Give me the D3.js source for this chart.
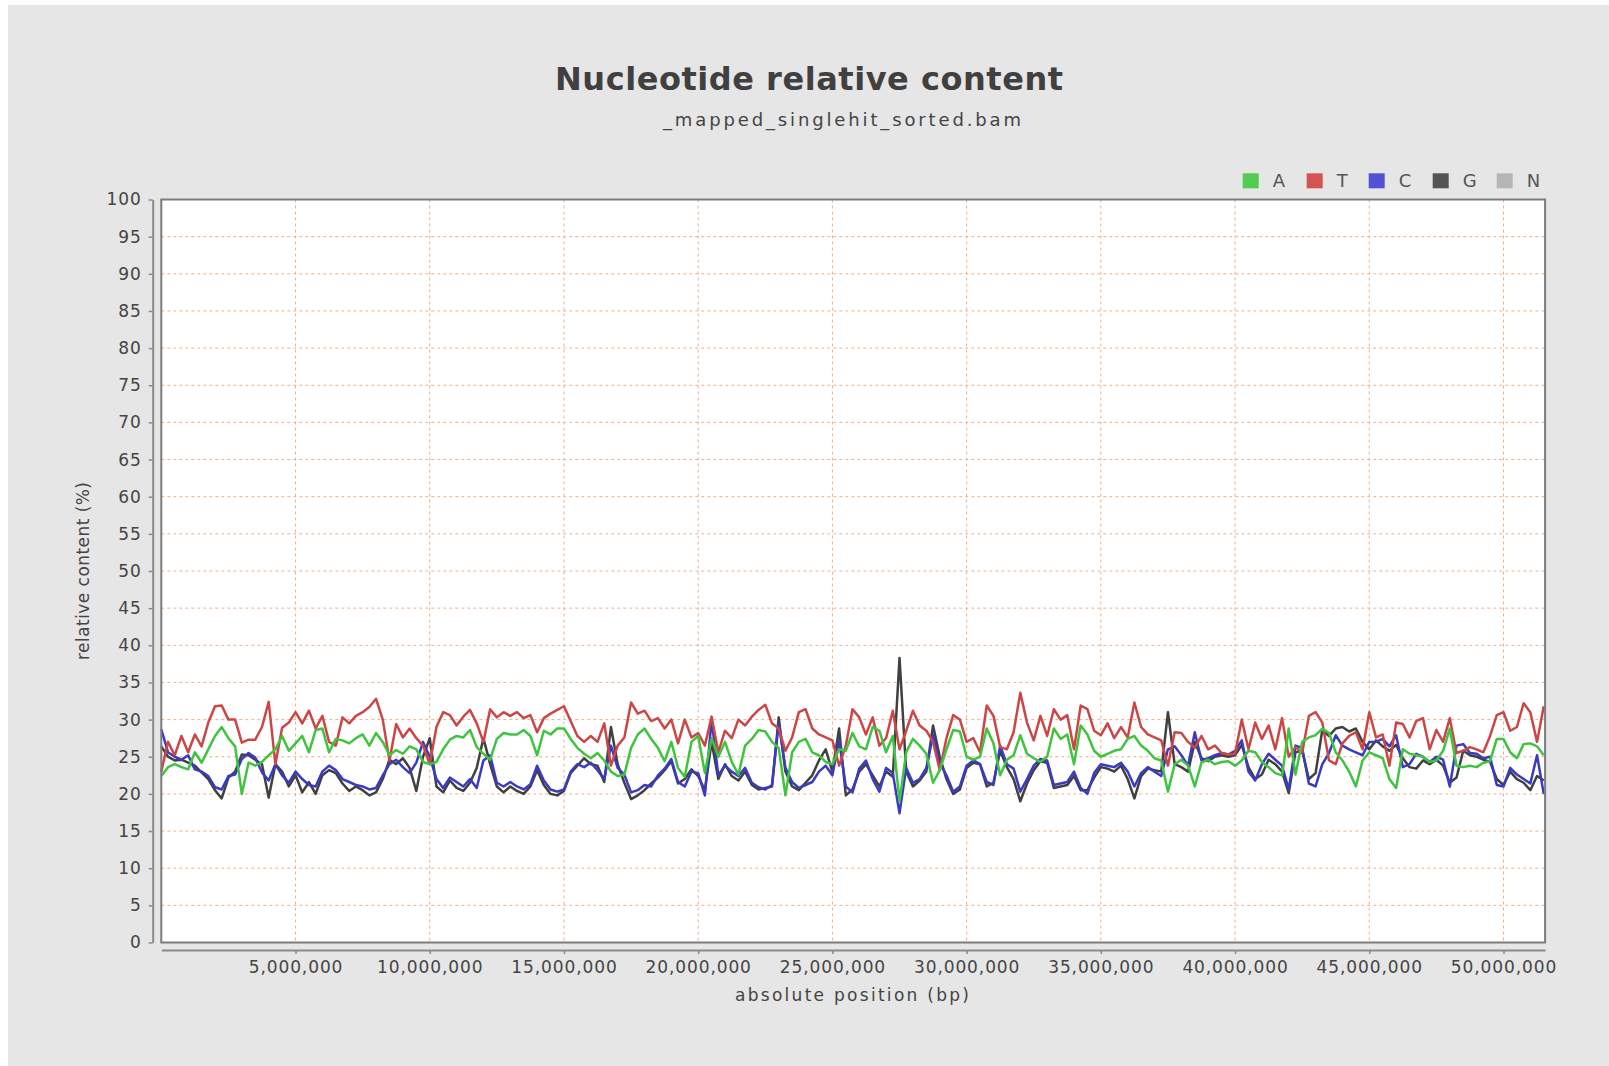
<!DOCTYPE html>
<html>
<head>
<meta charset="utf-8">
<script src="https://cdn.jsdelivr.net/npm/d3@7"></script>
<style>
  body { margin: 0; background: #ffffff; }
  text { font-family: "DejaVu Sans", sans-serif; fill: #444444; }
</style>
</head>
<body>
<div id="chart"></div>
<script>
// Relative nucleotide content (%) per window along the reference, one value every 250 kb
const windowStep = 250000;

const aContent = [
  22.4, 23.6, 24.0, 23.6, 23.3, 25.6, 24.2, 26.0, 27.8, 29.0, 27.5, 26.4, 20.0, 24.2, 23.8, 24.3,
  25.2, 26.0, 27.8, 25.8, 26.8, 27.8, 25.6, 28.6, 28.8, 25.6, 27.4, 27.2, 26.8, 27.5, 28.0, 26.5,
  28.2, 27.0, 25.2, 25.9, 25.4, 26.4, 26.0, 24.3, 24.0, 24.3, 26.0, 27.3, 27.8, 27.6, 28.6, 26.3,
  25.4, 24.6, 27.4, 28.2, 28.0,
  28.0, 28.6, 27.8, 25.2, 28.5, 28.0, 28.8, 28.8, 27.4, 26.2, 25.4, 24.8, 25.5, 24.5, 23.0, 22.4,
  22.6, 26.2, 28.0, 28.8, 27.4, 26.2, 24.4, 27.0, 23.5, 22.3, 27.0, 27.8, 22.8, 27.5, 25.0, 27.0,
  24.3, 22.6, 26.5, 27.4, 28.6, 28.4, 27.0, 26.2, 19.8, 25.6, 27.0, 27.4, 25.6, 25.2, 24.3, 24.0,
  26.0, 25.8, 28.2, 26.4,
  26.0, 29.0, 28.5, 25.6, 27.8, 19.0, 25.6, 27.4, 26.5, 25.4, 21.5, 23.2, 26.0, 28.6, 28.4, 25.0,
  24.6, 25.0, 28.8, 26.8, 22.5, 24.6, 25.2, 27.9, 25.4, 24.8, 24.3, 25.0, 28.8, 27.4, 28.0, 24.0,
  29.2, 28.0, 25.8, 25.0, 25.4, 25.8, 26.0, 27.4, 27.8, 26.5, 25.8, 24.8, 24.5, 20.3, 24.0, 24.6,
  23.8, 21.0, 24.2, 24.6, 24.0, 24.3, 24.4,
  23.8, 24.5, 25.8, 25.6, 24.3, 23.6, 22.8, 22.5, 28.8, 22.6, 27.0, 27.6, 27.9, 28.8, 28.2, 25.6,
  24.5, 23.0, 21.0, 24.5, 25.6, 25.2, 24.8, 22.0, 20.8, 26.0, 25.4, 25.2, 25.0, 24.3, 24.5, 25.8,
  28.8, 23.8, 23.6, 23.8, 23.6, 24.2, 24.4, 27.4, 27.4, 25.6, 24.8, 26.7, 26.8, 26.4, 25.2
];

const tContent = [
  23.0, 27.0, 25.2, 27.8, 25.6, 28.0, 26.4, 29.6, 31.8, 31.9, 30.0, 30.0, 26.9, 27.3, 27.3, 29.0,
  32.4, 24.0, 28.9, 29.6, 31.0, 29.5, 31.2, 28.8, 30.5, 27.0, 26.5, 30.3, 29.5, 30.5, 31.0, 31.7,
  32.8, 30.0, 24.5, 29.4, 27.6, 28.8, 27.5, 26.5, 24.0, 29.0, 31.0, 30.6, 29.2, 30.4, 31.3, 29.5,
  27.0, 31.4, 30.3, 31.0, 30.5,
  31.0, 30.2, 30.6, 28.3, 30.2, 30.8, 31.3, 31.8, 29.8, 27.8, 27.0, 27.8, 27.0, 29.5, 23.8, 26.5,
  27.6, 32.3, 30.8, 31.2, 29.8, 30.2, 28.8, 30.0, 26.8, 30.0, 27.6, 28.2, 26.5, 30.4, 25.6, 28.5,
  27.5, 30.0, 29.2, 30.4, 31.3, 32.0, 29.5, 28.8, 25.8, 27.6, 31.0, 31.4, 28.8, 28.0, 27.6, 27.2,
  23.8, 26.5, 31.4, 30.3,
  28.0, 30.3, 26.5, 27.5, 31.2, 26.0, 28.5, 31.2, 29.2, 28.5, 27.0, 23.2, 27.5, 30.6, 30.0, 27.0,
  27.5, 25.6, 31.9, 30.5, 26.3, 26.0, 28.3, 33.6, 29.6, 27.2, 30.5, 27.8, 31.4, 30.0, 30.6, 26.0,
  31.9, 31.4, 28.5, 27.9, 29.5, 27.5, 29.0, 27.6, 32.3, 29.0, 28.0, 27.6, 27.2, 23.8, 28.3, 28.2,
  27.0, 26.2, 27.8, 26.0, 26.5, 25.5, 25.3,
  25.4, 30.0, 26.0, 29.6, 27.4, 29.2, 26.0, 30.2, 25.0, 26.3, 25.5, 30.5, 31.0, 29.6, 24.5, 24.0,
  26.8, 27.8, 28.3, 26.0, 31.0, 27.6, 28.0, 23.8, 29.6, 29.4, 27.6, 29.8, 30.2, 26.0, 28.6, 27.0,
  30.2, 25.5, 25.8, 26.3, 26.0, 25.6, 27.8, 30.6, 31.0, 28.5, 29.0, 32.2, 31.0, 27.0, 31.8
];

const cContent = [
  28.7, 25.6, 25.0, 24.6, 25.2, 23.3, 23.0, 22.4, 20.9, 20.6, 22.4, 22.6, 24.7, 25.5, 24.9, 22.9,
  21.8, 24.0, 22.5, 21.5, 23.0, 22.0, 21.2, 21.0, 23.0, 23.8, 23.2, 22.0, 21.6, 21.2, 21.0, 20.6,
  20.8, 22.5, 24.0, 24.6, 23.6, 22.8, 24.2, 27.0, 25.0, 22.0, 20.8, 22.2, 21.6, 21.0, 22.0, 20.8,
  24.5, 25.2, 21.5, 21.0, 21.6,
  21.0, 20.6, 21.3, 23.8, 21.8, 20.6, 20.3, 20.6, 23.0, 24.0, 23.6, 24.2, 23.2, 22.0, 26.5, 23.5,
  22.6, 20.2, 20.5, 21.2, 21.0, 22.5, 23.4, 24.7, 21.6, 21.0, 23.0, 22.8, 19.8, 30.0, 22.5, 23.8,
  23.0, 22.4, 23.5, 21.5, 20.9, 20.6, 21.2, 29.5, 23.5, 21.6, 20.8, 21.2, 21.6, 23.0, 23.8, 22.5,
  27.2, 21.0, 20.2, 23.4,
  24.5, 22.0, 20.3, 23.5, 22.8, 17.4, 23.5, 21.5, 22.0, 23.5, 27.9, 24.2, 22.5, 20.3, 21.0, 23.8,
  24.5, 24.0, 21.6, 21.2, 26.5, 24.0, 23.4, 20.3, 22.0, 23.8, 24.7, 24.5, 21.2, 21.4, 21.6, 23.0,
  20.8, 20.0, 22.8, 24.0, 23.8, 23.6, 24.2, 23.0, 21.0, 22.8, 23.6, 23.0, 22.4, 26.0, 26.4, 25.2,
  23.8, 28.3, 24.5, 24.8, 25.2, 25.5, 25.3,
  25.8, 27.2, 23.0, 21.8, 24.0, 25.4, 24.6, 23.8, 20.6, 26.5, 26.2, 21.4, 21.0, 24.0, 25.5, 27.9,
  26.5, 26.0, 25.6, 25.2, 27.0, 27.0, 27.4, 26.4, 27.9, 23.6, 24.0, 25.4, 25.0, 24.3, 25.0, 24.6,
  21.0, 26.5, 26.7, 25.5, 25.4, 24.8, 25.0, 21.2, 21.0, 23.5, 22.6, 22.0, 21.4, 25.2, 20.0
];

const gContent = [
  26.4, 25.0, 24.5, 24.6, 24.2, 23.8, 22.9, 22.0, 20.5, 19.4, 22.2, 23.0, 25.3, 25.2, 24.6, 24.0,
  19.5, 24.0, 23.0, 21.0, 22.5, 20.2, 21.6, 20.0, 22.5, 23.2, 22.8, 21.4, 20.4, 21.0, 20.5, 19.8,
  20.2, 22.0, 24.6, 24.0, 24.8, 23.5, 20.4, 25.0, 27.5, 21.0, 20.2, 21.8, 20.8, 20.4, 21.5, 23.5,
  27.5, 24.0, 21.0, 20.2, 21.0,
  20.4, 20.0, 21.0, 23.2, 21.2, 20.0, 19.8, 20.4, 22.8, 23.8, 24.8, 24.0, 23.8, 21.6, 29.0, 24.0,
  21.5, 19.3, 19.8, 20.5, 21.4, 22.2, 23.2, 24.4, 21.4, 22.0, 23.3, 22.4, 20.5, 27.0, 22.0, 24.0,
  22.4, 21.8, 23.0, 21.2, 20.6, 20.8, 21.0, 30.3, 23.0, 21.0, 20.5, 21.5, 22.5, 24.5, 26.0, 23.0,
  28.8, 19.8, 20.6, 23.0,
  24.0, 22.5, 21.0, 23.0, 22.3, 38.3, 23.0, 21.0, 21.8, 23.0, 29.2, 25.0, 22.0, 20.0, 20.6, 23.5,
  24.2, 24.0, 21.0, 21.5, 25.8, 23.6, 22.0, 19.0, 21.4, 23.2, 24.4, 24.2, 20.8, 21.0, 21.2, 22.4,
  20.5, 20.5, 22.2, 23.6, 23.4, 23.0, 23.8, 22.0, 19.4, 22.4, 23.4, 23.2, 23.0, 31.0, 24.0, 23.6,
  23.0, 27.0, 24.8, 24.4, 25.0, 25.2, 25.0,
  25.2, 26.6, 23.6, 22.0, 22.6, 24.6, 24.0, 23.0, 20.1, 25.6, 25.8, 22.0, 22.8, 28.6, 27.8, 28.8,
  29.0, 28.4, 28.8, 27.0, 26.0, 27.2, 26.4, 25.8, 26.6, 24.8, 23.6, 23.4, 24.5, 24.0, 24.6, 23.8,
  21.5, 22.2, 25.8, 25.2, 25.0, 24.6, 24.3, 22.0, 21.2, 23.0, 22.0, 21.5, 20.5, 22.4, 21.8
];

const legendBases = ['A', 'T', 'C', 'G', 'N'];
const yTickValues = [0, 5, 10, 15, 20, 25, 30, 35, 40, 45, 50, 55, 60, 65, 70, 75, 80, 85, 90, 95, 100];
const xTickValues = [5000000, 10000000, 15000000, 20000000, 25000000, 30000000,
                     35000000, 40000000, 45000000, 50000000];
const xMax = 51550000;

// drawing order: last series first, A ends on top
const series = [
  {base: 'G', values: gContent},
  {base: 'C', values: cContent},
  {base: 'T', values: tContent},
  {base: 'A', values: aContent}
];

const lineColor = {A: '#3fc43f', T: '#cc4646', C: '#3a3ac2', G: '#404040', N: '#b4b4b4'};
const legendColor = {A: '#52cc52', T: '#d45454', C: '#5252d4', G: '#545454', N: '#b5b5b5'};

let width = 1609,
    height = 1066;

let plot = {left: 161.3, right: 1545.1, top: 199.5, bottom: 942.5};

let svg = d3.select('#chart')
        .append('svg')
        .attr('width', width)
        .attr('height', height);

// grey panel behind everything
svg.append('rect')
    .attr('x', 8)
    .attr('y', 5)
    .attr('width', width - 8)
    .attr('height', height - 5)
    .attr('fill', '#e6e6e6');

// titles
svg.append('text')
    .attr('x', 809)
    .attr('y', 90)
    .attr('text-anchor', 'middle')
    .attr('textLength', 508)
    .attr('lengthAdjust', 'spacing')
    .style('font-size', '32px')
    .style('font-weight', 'bold')
    .style('fill', '#404040')
    .text('Nucleotide relative content');

svg.append('text')
    .attr('x', 842)
    .attr('y', 126)
    .attr('text-anchor', 'middle')
    .attr('textLength', 358)
    .attr('lengthAdjust', 'spacing')
    .style('font-size', '18px')
    .text('_mapped_singlehit_sorted.bam');

// scales
let x = d3.scaleLinear()
        .domain([0, xMax])
        .range([plot.left, plot.right]);

let y = d3.scaleLinear()
        .domain([0, 100])
        .range([plot.bottom, plot.top]);

// plot background
svg.append('rect')
    .attr('x', plot.left)
    .attr('y', plot.top)
    .attr('width', plot.right - plot.left)
    .attr('height', plot.bottom - plot.top)
    .attr('fill', '#ffffff');

// dashed grid
svg.append('g')
    .selectAll('line')
    .data(xTickValues)
    .enter()
    .append('line')
    .attr('x1', d => x(d))
    .attr('x2', d => x(d))
    .attr('y1', plot.top)
    .attr('y2', plot.bottom)
    .attr('stroke', '#eeb088')
    .attr('stroke-width', 1)
    .attr('stroke-dasharray', '3,3');

svg.append('g')
    .selectAll('line')
    .data(yTickValues.filter(d => d > 0 && d < 100))
    .enter()
    .append('line')
    .attr('x1', plot.left)
    .attr('x2', plot.right)
    .attr('y1', d => y(d))
    .attr('y2', d => y(d))
    .attr('stroke', '#eeb088')
    .attr('stroke-width', 1)
    .attr('stroke-dasharray', '3,3');

// series lines
let line = d3.line()
        .x((d, i) => x(i * windowStep))
        .y(d => y(d));

series.forEach(s => {
  svg.append('path')
      .datum(s.values)
      .attr('d', line)
      .attr('fill', 'none')
      .attr('stroke', lineColor[s.base])
      .attr('stroke-width', 2.5)
      .attr('stroke-linejoin', 'round');
});

// plot outline
svg.append('rect')
    .attr('x', plot.left)
    .attr('y', plot.top)
    .attr('width', plot.right - plot.left)
    .attr('height', plot.bottom - plot.top)
    .attr('fill', 'none')
    .attr('stroke', '#7c7c7c')
    .attr('stroke-width', 2);

// axes, offset from the plot like the original
let yAxis = svg.append('g')
        .attr('transform', 'translate(152.7, 0)')
        .call(d3.axisLeft(y).tickValues(yTickValues).tickSize(4).tickSizeOuter(0).tickPadding(7));

let xAxis = svg.append('g')
        .attr('transform', 'translate(0, 950)')
        .call(d3.axisBottom(x).tickValues(xTickValues).tickFormat(d3.format(','))
              .tickSize(4).tickSizeOuter(0).tickPadding(7));

[yAxis, xAxis].forEach(ax => {
  ax.select('.domain').attr('stroke', '#8a8a8a').attr('stroke-width', 2);
  ax.selectAll('.tick line').attr('stroke', '#8a8a8a').attr('stroke-width', 1.5);
  ax.selectAll('.tick text')
      .style('font-family', '"DejaVu Sans", sans-serif')
      .style('font-size', '17px')
      .style('letter-spacing', '0.9px')
      .style('fill', '#444444');
});

// axis labels
svg.append('text')
    .attr('x', 852)
    .attr('y', 1001)
    .attr('text-anchor', 'middle')
    .attr('textLength', 234)
    .attr('lengthAdjust', 'spacing')
    .style('font-size', '17px')
    .text('absolute position (bp)');

svg.append('text')
    .attr('transform', 'translate(89, 571) rotate(-90)')
    .attr('text-anchor', 'middle')
    .attr('textLength', 178)
    .attr('lengthAdjust', 'spacing')
    .style('font-size', '17px')
    .text('relative content (%)');

// legend
const legendX = [1242.7, 1306.7, 1368.7, 1432.7, 1496.7];

let legend = svg.append('g');

legendBases.forEach((b, i) => {
  legend.append('rect')
      .attr('x', legendX[i])
      .attr('y', 173.3)
      .attr('width', 16)
      .attr('height', 15)
      .attr('fill', legendColor[b]);
  legend.append('text')
      .attr('x', legendX[i] + 30)
      .attr('y', 186.7)
      .style('font-size', '18px')
      .style('fill', '#555555')
      .text(b);
});
</script>
</body>
</html>
